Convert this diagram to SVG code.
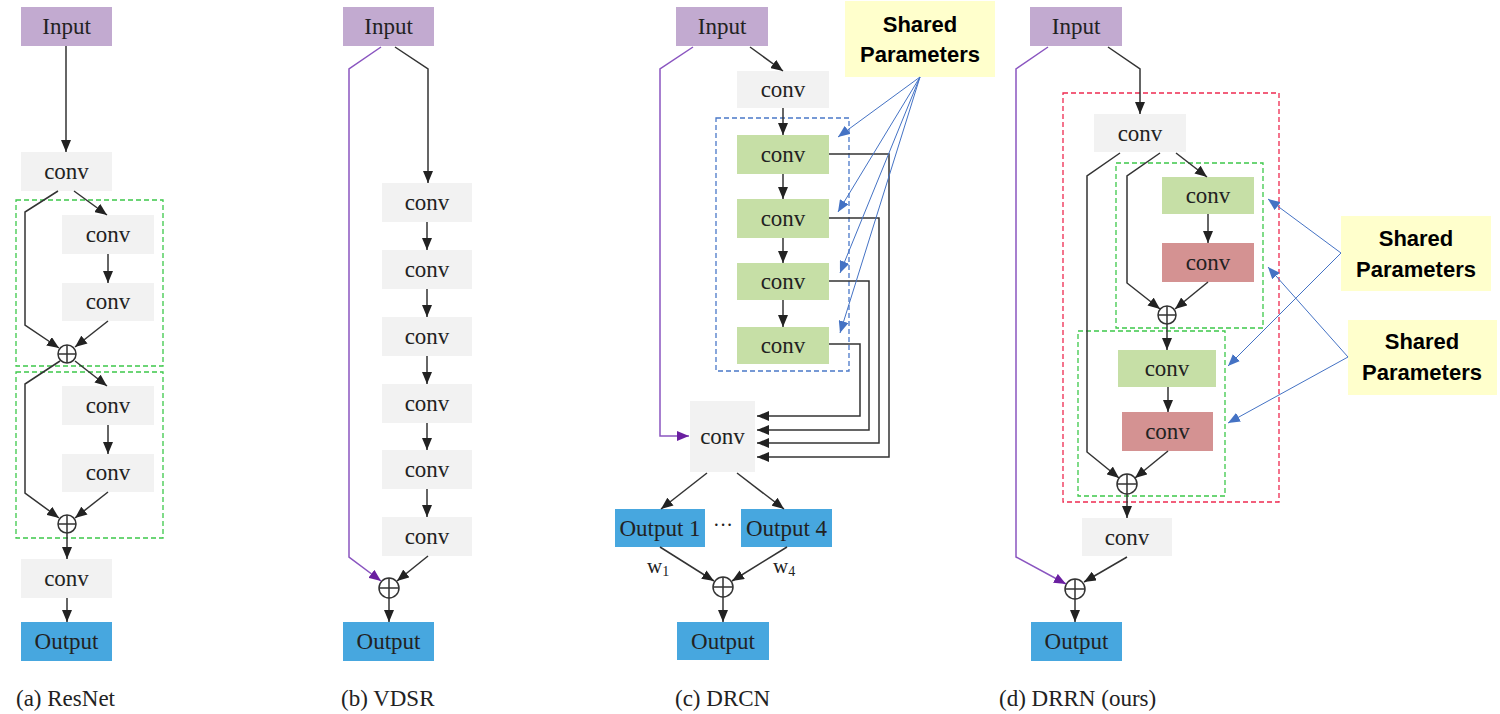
<svg xmlns="http://www.w3.org/2000/svg" width="1500" height="714" viewBox="0 0 1500 714">
<defs>
<style>
.t{font-family:"Liberation Serif","Times New Roman",serif;font-size:23px;fill:#222;text-anchor:middle}
.lab{font-family:"Liberation Serif","Times New Roman",serif;font-size:23px;fill:#222}
.sp{font-family:"Liberation Sans",Arial,sans-serif;font-size:22px;font-weight:bold;fill:#000;text-anchor:middle}
.in{fill:#c2aad0}
.cv{fill:#f2f2f2}
.gr{fill:#c6dfa6}
.rd{fill:#d49292}
.out{fill:#47a7df}
.spb{fill:#ffffcc}
.ln{fill:none;stroke:#333;stroke-width:1.5}
.pl{fill:none;stroke:#8a55c0;stroke-width:1.5}
.bl{fill:none;stroke:#4472c4;stroke-width:1}
.gd{fill:none;stroke:#3cc84a;stroke-width:1.3;stroke-dasharray:5,3}
.rdd{fill:none;stroke:#ee2a50;stroke-width:1.3;stroke-dasharray:5,3}
.bd{fill:none;stroke:#4a78c8;stroke-width:1.3;stroke-dasharray:5,3}
.cir{fill:#fff;stroke:#333;stroke-width:1.5}
</style>
<marker id="ab" viewBox="0 0 12 10" refX="12" refY="5" markerWidth="12" markerHeight="10" markerUnits="userSpaceOnUse" orient="auto"><path d="M0,0 L12,5 L0,10 z" fill="#222"/></marker>
<marker id="ap" viewBox="0 0 12 10" refX="12" refY="5" markerWidth="12" markerHeight="10" markerUnits="userSpaceOnUse" orient="auto"><path d="M0,0 L12,5 L0,10 z" fill="#6a1fa0"/></marker>
<marker id="abl" viewBox="0 0 12 10" refX="12" refY="5" markerWidth="12" markerHeight="10" markerUnits="userSpaceOnUse" orient="auto"><path d="M0,0 L12,5 L0,10 z" fill="#4472c4"/></marker>
</defs>
<rect width="1500" height="714" fill="#fff"/>

<!-- group frames -->
<g id="frames">
<rect class="gd" x="16" y="200" width="147" height="166"/>
<rect class="gd" x="16" y="372" width="147" height="166"/>
<rect class="bd" x="716" y="118" width="133" height="253"/>
<rect class="rdd" x="1063" y="93" width="216" height="409"/>
<rect class="gd" x="1116" y="163" width="147" height="165"/>
<rect class="gd" x="1078" y="331" width="147" height="165"/>
</g>

<!-- (a) ResNet -->
<g id="a-input"><rect class="in" x="21" y="7" width="91" height="39"/><text class="t" x="66.5" y="34">Input</text></g>
<g id="a-conv0"><rect class="cv" x="21" y="152" width="91" height="39"/><text class="t" x="66.5" y="179">conv</text></g>
<g id="a-conv1"><rect class="cv" x="62" y="215" width="92" height="39"/><text class="t" x="108" y="242">conv</text></g>
<g id="a-conv2"><rect class="cv" x="62" y="283" width="92" height="38"/><text class="t" x="108" y="309">conv</text></g>
<g id="a-conv3"><rect class="cv" x="62" y="386" width="92" height="39"/><text class="t" x="108" y="413">conv</text></g>
<g id="a-conv4"><rect class="cv" x="62" y="454" width="92" height="38"/><text class="t" x="108" y="480">conv</text></g>
<g id="a-conv5"><rect class="cv" x="21" y="559" width="91" height="39"/><text class="t" x="66.5" y="586">conv</text></g>
<g id="a-output"><rect class="out" x="21" y="622" width="91" height="39"/><text class="t" x="66.5" y="649">Output</text></g>
<g id="a-sum1"><circle class="cir" cx="67" cy="354" r="9"/><path class="ln" d="M58,354 H76 M67,345 V363"/></g>
<g id="a-sum2"><circle class="cir" cx="67" cy="524" r="9"/><path class="ln" d="M58,524 H76 M67,515 V533"/></g>

<!-- (b) VDSR -->
<g id="b-input"><rect class="in" x="343" y="7" width="91" height="39"/><text class="t" x="388.5" y="34">Input</text></g>
<g id="b-conv1"><rect class="cv" x="382" y="183" width="90" height="39"/><text class="t" x="427" y="210">conv</text></g>
<g id="b-conv2"><rect class="cv" x="382" y="250" width="90" height="39"/><text class="t" x="427" y="277">conv</text></g>
<g id="b-conv3"><rect class="cv" x="382" y="317" width="90" height="39"/><text class="t" x="427" y="344">conv</text></g>
<g id="b-conv4"><rect class="cv" x="382" y="384" width="90" height="39"/><text class="t" x="427" y="411">conv</text></g>
<g id="b-conv5"><rect class="cv" x="382" y="450" width="90" height="39"/><text class="t" x="427" y="477">conv</text></g>
<g id="b-conv6"><rect class="cv" x="382" y="517" width="90" height="39"/><text class="t" x="427" y="544">conv</text></g>
<g id="b-sum"><circle class="cir" cx="389" cy="588" r="10"/><path class="ln" d="M379,588 H399 M389,578 V598"/></g>
<g id="b-output"><rect class="out" x="343" y="622" width="91" height="39"/><text class="t" x="388.5" y="649">Output</text></g>

<!-- (c) DRCN -->
<g id="c-input"><rect class="in" x="676" y="7" width="92" height="39"/><text class="t" x="722" y="34">Input</text></g>
<g id="c-shared"><rect class="spb" x="845" y="1" width="150" height="76"/><text class="sp" x="920" y="32">Shared</text><text class="sp" x="920" y="62">Parameters</text></g>
<g id="c-conv0"><rect class="cv" x="737" y="71" width="92" height="37"/><text class="t" x="783" y="97">conv</text></g>
<g id="c-conv1"><rect class="gr" x="737" y="135" width="92" height="39"/><text class="t" x="783" y="162">conv</text></g>
<g id="c-conv2"><rect class="gr" x="737" y="199" width="92" height="39"/><text class="t" x="783" y="226">conv</text></g>
<g id="c-conv3"><rect class="gr" x="737" y="263" width="92" height="37"/><text class="t" x="783" y="289">conv</text></g>
<g id="c-conv4"><rect class="gr" x="737" y="327" width="92" height="37"/><text class="t" x="783" y="353">conv</text></g>
<g id="c-convbig"><rect class="cv" x="690" y="401" width="65" height="71"/><text class="t" x="722.5" y="444">conv</text></g>
<g id="c-out1"><rect class="out" x="615" y="509" width="90" height="38"/><text class="t" x="660" y="536">Output 1</text></g>
<g id="c-out4"><rect class="out" x="741" y="509" width="91" height="38"/><text class="t" x="786.5" y="536">Output 4</text></g>
<text class="t" x="723" y="532" style="font-size:20px">···</text>
<text class="lab" x="647" y="573" style="font-size:21px">w<tspan style="font-size:14px" dy="3">1</tspan></text>
<text class="lab" x="773" y="573" style="font-size:21px">w<tspan style="font-size:14px" dy="3">4</tspan></text>
<g id="c-sum"><circle class="cir" cx="723" cy="587" r="10"/><path class="ln" d="M713,587 H733 M723,577 V597"/></g>
<g id="c-output"><rect class="out" x="677" y="622" width="92" height="38"/><text class="t" x="723" y="649">Output</text></g>

<!-- (d) DRRN -->
<g id="d-input"><rect class="in" x="1030" y="7" width="92" height="39"/><text class="t" x="1076" y="34">Input</text></g>
<g id="d-conv0"><rect class="cv" x="1094" y="114" width="92" height="38"/><text class="t" x="1140" y="141">conv</text></g>
<g id="d-g1"><rect class="gr" x="1162" y="177" width="92" height="37"/><text class="t" x="1208" y="203">conv</text></g>
<g id="d-r1"><rect class="rd" x="1162" y="243" width="92" height="39"/><text class="t" x="1208" y="270">conv</text></g>
<g id="d-sum1"><circle class="cir" cx="1167" cy="315" r="9"/><path class="ln" d="M1158,315 H1176 M1167,306 V324"/></g>
<g id="d-g2"><rect class="gr" x="1118" y="350" width="98" height="37"/><text class="t" x="1167" y="376">conv</text></g>
<g id="d-r2"><rect class="rd" x="1122" y="412" width="91" height="39"/><text class="t" x="1167.5" y="439">conv</text></g>
<g id="d-sum2"><circle class="cir" cx="1127" cy="484" r="10"/><path class="ln" d="M1117,484 H1137 M1127,474 V494"/></g>
<g id="d-conv5"><rect class="cv" x="1082" y="518" width="90" height="38"/><text class="t" x="1127" y="545">conv</text></g>
<g id="d-sum3"><circle class="cir" cx="1075" cy="589" r="10"/><path class="ln" d="M1065,589 H1085 M1075,579 V599"/></g>
<g id="d-output"><rect class="out" x="1031" y="622" width="91" height="39"/><text class="t" x="1076.5" y="649">Output</text></g>
<g id="d-shared1"><rect class="spb" x="1341" y="216" width="150" height="75"/><text class="sp" x="1416" y="246">Shared</text><text class="sp" x="1416" y="277">Parameters</text></g>
<g id="d-shared2"><rect class="spb" x="1348" y="320" width="149" height="75"/><text class="sp" x="1422" y="349">Shared</text><text class="sp" x="1422" y="380">Parameters</text></g>

<!-- connectors -->
<g id="connectors">
<!-- a -->
<path class="ln" d="M66,46 V152" marker-end="url(#ab)"/>
<path class="ln" d="M58,191 L25,212 V325 L59,348" marker-end="url(#ab)"/>
<path class="ln" d="M74,191 L107,215" marker-end="url(#ab)"/>
<path class="ln" d="M108,254 V283" marker-end="url(#ab)"/>
<path class="ln" d="M108,321 L75,347" marker-end="url(#ab)"/>
<path class="ln" d="M60,361 L25,384 V493 L59,518" marker-end="url(#ab)"/>
<path class="ln" d="M75,361 L107,386" marker-end="url(#ab)"/>
<path class="ln" d="M108,425 V454" marker-end="url(#ab)"/>
<path class="ln" d="M108,492 L75,518" marker-end="url(#ab)"/>
<path class="ln" d="M67,533 V559" marker-end="url(#ab)"/>
<path class="ln" d="M67,598 V622" marker-end="url(#ab)"/>
<!-- b -->
<path class="pl" d="M381,47 L349,69 V557 L381,581" marker-end="url(#ap)"/>
<path class="ln" d="M395,47 L428,69 V183" marker-end="url(#ab)"/>
<path class="ln" d="M427,222 V250" marker-end="url(#ab)"/>
<path class="ln" d="M427,289 V317" marker-end="url(#ab)"/>
<path class="ln" d="M427,356 V384" marker-end="url(#ab)"/>
<path class="ln" d="M427,423 V450" marker-end="url(#ab)"/>
<path class="ln" d="M427,489 V517" marker-end="url(#ab)"/>
<path class="ln" d="M428,556 L397,581" marker-end="url(#ab)"/>
<path class="ln" d="M389,598 V622" marker-end="url(#ab)"/>
<!-- c -->
<path class="pl" d="M693,47 L660,69 V436 H689" marker-end="url(#ap)"/>
<path class="ln" d="M750,47 L783,71" marker-end="url(#ab)"/>
<path class="ln" d="M783,108 V135" marker-end="url(#ab)"/>
<path class="ln" d="M783,174 V199" marker-end="url(#ab)"/>
<path class="ln" d="M783,238 V263" marker-end="url(#ab)"/>
<path class="ln" d="M783,300 V327" marker-end="url(#ab)"/>
<path class="ln" d="M829,154 H889 V457 H757" marker-end="url(#ab)"/>
<path class="ln" d="M829,218 H879 V443 H757" marker-end="url(#ab)"/>
<path class="ln" d="M829,281 H869 V430 H757" marker-end="url(#ab)"/>
<path class="ln" d="M829,344 H860 V416 H757" marker-end="url(#ab)"/>
<path class="ln" d="M707,473 L661,509" marker-end="url(#ab)"/>
<path class="ln" d="M737,473 L784,509" marker-end="url(#ab)"/>
<path class="ln" d="M660,547 L714,581" marker-end="url(#ab)"/>
<path class="ln" d="M787,547 L732,581" marker-end="url(#ab)"/>
<path class="ln" d="M723,597 V622" marker-end="url(#ab)"/>
<path class="bl" d="M920,77 L838,137" marker-end="url(#abl)"/>
<path class="bl" d="M920,77 L838,212" marker-end="url(#abl)"/>
<path class="bl" d="M920,77 L840,273" marker-end="url(#abl)"/>
<path class="bl" d="M920,77 L840,333" marker-end="url(#abl)"/>
<!-- d -->
<path class="pl" d="M1048,47 L1016,69 V557 L1066,584" marker-end="url(#ap)"/>
<path class="ln" d="M1108,47 L1140,69 V114" marker-end="url(#ab)"/>
<path class="ln" d="M1120,153 L1087,176 V452 L1119,478" marker-end="url(#ab)"/>
<path class="ln" d="M1160,153 L1127,176 V283 L1160,309" marker-end="url(#ab)"/>
<path class="ln" d="M1176,153 L1207,177" marker-end="url(#ab)"/>
<path class="ln" d="M1208,214 V243" marker-end="url(#ab)"/>
<path class="ln" d="M1208,282 L1175,309" marker-end="url(#ab)"/>
<path class="ln" d="M1167,324 V350" marker-end="url(#ab)"/>
<path class="ln" d="M1168,387 V412" marker-end="url(#ab)"/>
<path class="ln" d="M1168,451 L1135,478" marker-end="url(#ab)"/>
<path class="ln" d="M1127,494 V518" marker-end="url(#ab)"/>
<path class="ln" d="M1127,557 L1084,582" marker-end="url(#ab)"/>
<path class="ln" d="M1075,599 V622" marker-end="url(#ab)"/>
<path class="bl" d="M1341,253 L1268,199" marker-end="url(#abl)"/>
<path class="bl" d="M1341,253 L1228,366" marker-end="url(#abl)"/>
<path class="bl" d="M1348,357 L1268,267" marker-end="url(#abl)"/>
<path class="bl" d="M1348,357 L1228,423" marker-end="url(#abl)"/>
</g>

<!-- captions -->
<text class="lab" x="16" y="706">(a) ResNet</text>
<text class="lab" x="341" y="706">(b) VDSR</text>
<text class="lab" x="675" y="706">(c) DRCN</text>
<text class="lab" x="999" y="706">(d) DRRN (ours)</text>
</svg>
